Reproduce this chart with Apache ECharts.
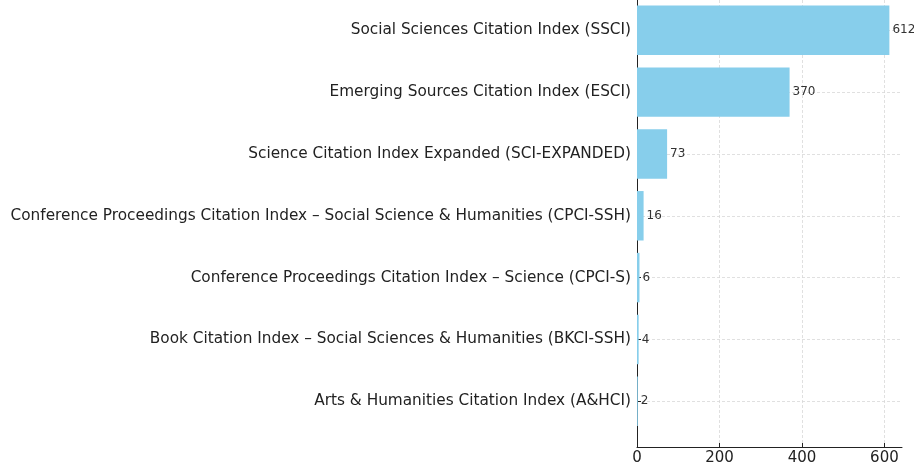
<!DOCTYPE html>
<html>
<head>
<meta charset="utf-8">
<script src="https://cdn.jsdelivr.net/npm/echarts@6/dist/echarts.min.js"></script>
<style>
  html, body { margin: 0; padding: 0; background: #fff; }
  #main { width: 914px; height: 466px; }
</style>
</head>
<body>
<div id="main"></div>
<script>
// categories listed bottom -> top (index = position on the y axis)
var categories = [
    'Arts & Humanities Citation Index (A&HCI)',
    'Book Citation Index – Social Sciences & Humanities (BKCI-SSH)',
    'Conference Proceedings Citation Index – Science (CPCI-S)',
    'Conference Proceedings Citation Index – Social Science & Humanities (CPCI-SSH)',
    'Science Citation Index Expanded (SCI-EXPANDED)',
    'Emerging Sources Citation Index (ESCI)',
    'Social Sciences Citation Index (SSCI)'
];
var counts = [2, 4, 6, 16, 73, 370, 612];
var xTicks = [0, 200, 400, 600];

var positions = categories.map(function (c, i) { return i; });
var seriesData = counts.map(function (v, i) { return [v, i]; });

var chartDom = document.getElementById('main');
var myChart = echarts.init(chartDom);
var font = 'DejaVu Sans';

var option = {
    animation: false,
    grid: {
        left: 637,
        right: 12,
        top: 0,
        bottom: 19
    },
    xAxis: {
        type: 'value',
        min: 0,
        max: 642.6,
        axisLine: { show: true, onZero: false, lineStyle: { color: '#222', width: 1 } },
        axisTick: { show: true, inside: true, length: 4, customValues: xTicks, lineStyle: { color: '#222' } },
        axisLabel: {
            customValues: xTicks,
            color: '#222',
            fontFamily: font,
            fontSize: 15,
            margin: 4
        },
        splitLine: {
            show: true,
            lineStyle: { type: [3, 2], color: '#d8d8d8', width: 0.8 }
        }
    },
    yAxis: {
        type: 'value',
        min: -0.74,
        max: 6.49,
        axisLine: { show: true, onZero: false, lineStyle: { color: '#222', width: 1 } },
        axisTick: { show: true, inside: true, length: 4, customValues: positions, lineStyle: { color: '#222' } },
        axisLabel: {
            customValues: positions,
            color: '#222',
            fontFamily: font,
            fontSize: 15.3,
            margin: 6,
            formatter: function (v) { return categories[Math.round(v)]; }
        },
        splitLine: {
            show: true,
            lineStyle: { type: [3, 2], color: '#d8d8d8', width: 0.8 }
        }
    },
    series: [
        {
            type: 'custom',
            data: seriesData,
            encode: { x: 0, y: 1 },
            renderItem: function (params, api) {
                var v = api.value(0);
                var y = api.value(1);
                var start = api.coord([0, y]);
                var end = api.coord([v, y]);
                var h = api.size([0, 0.8])[1];
                return {
                    type: 'group',
                    children: [
                        {
                            type: 'rect',
                            shape: { x: start[0], y: start[1] - h / 2, width: end[0] - start[0], height: h },
                            style: { fill: '#87ceeb' }
                        },
                        {
                            type: 'text',
                            style: {
                                text: String(v),
                                x: end[0] + 3,
                                y: end[1],
                                verticalAlign: 'middle',
                                fill: '#333',
                                font: '12px "DejaVu Sans"'
                            }
                        }
                    ]
                };
            }
        }
    ]
};
myChart.setOption(option);
</script>
</body>
</html>
